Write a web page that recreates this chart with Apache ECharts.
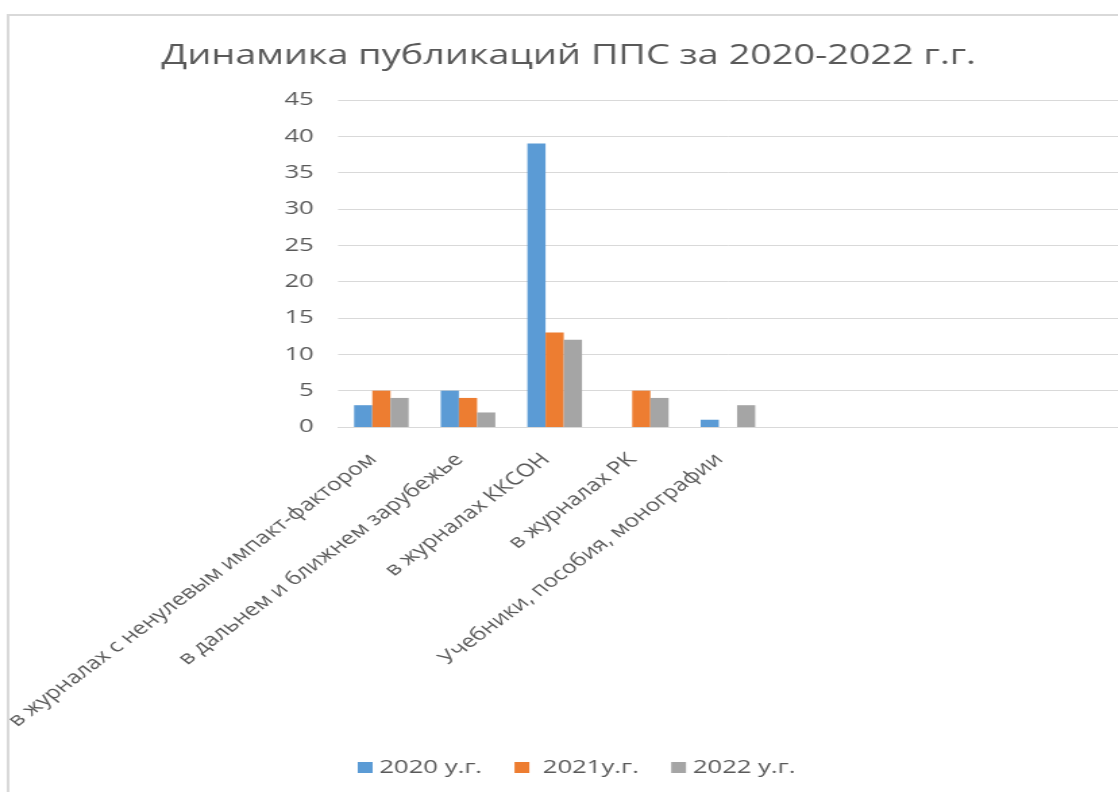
<!DOCTYPE html>
<html>
<head>
<meta charset="utf-8">
<script src="https://cdn.jsdelivr.net/npm/echarts@6/dist/echarts.min.js"></script>
<style>
  html, body { margin: 0; padding: 0; background: #fff; overflow: hidden; }
  /* исходный скриншот растянут по горизонтали, поэтому рисуем уже и растягиваем */
  #chart { width: 828px; height: 792px; transform: scaleX(1.35); transform-origin: 0 0; }
</style>
</head>
<body>
<div id="chart"></div>
<script>
var categories = [
	'в журналах с ненулевым импакт-фактором',
	'в дальнем и ближнем зарубежье',
	'в журналах ККСОН',
	'в журналах РК',
	'Учебники, пособия, монографии',
	'', '', '', ''
];
var seriesNames = ['2020 у.г.', ' 2021у.г.', '2022 у.г.'];
var data2020 = [3, 5, 39, 0, 1];
var data2021 = [5, 4, 13, 5, 0];
var data2022 = [4, 2, 12, 4, 3];
var yTicks = { min: 0, max: 45, interval: 5 };

var colors = ['#5B9BD5', '#ED7D31', '#A5A5A5'];
var font = '"Open Sans", "DejaVu Sans", sans-serif';

var myChart = echarts.init(document.getElementById('chart'));
var option = {
	animation: false,
	color: colors,
	textStyle: { fontFamily: font },
	title: {
		text: 'Динамика публикаций ППС за 2020-2022 г.г.',
		left: 114.5,
		top: 37,
		textStyle: { fontFamily: font, fontSize: 28, fontWeight: 'normal', color: '#595959' }
	},
	legend: {
		data: seriesNames,
		left: 260,
		top: 753,
		itemWidth: 11,
		itemHeight: 11,
		itemGap: 24,
		icon: 'rect',
		textStyle: { fontFamily: font, fontSize: 19, color: '#595959' }
	},
	graphic: [{
		type: 'rect',
		shape: { x: 6, y: 15, width: 900, height: 900 },
		style: { fill: 'none', stroke: '#d9d9d9', lineWidth: 2 },
		silent: true
	}],
	grid: { left: 250.4, top: 100, bottom: 365, right: -5.7, containLabel: false },
	xAxis: {
		type: 'category',
		data: categories,
		axisLine: { show: true, lineStyle: { color: '#d9d9d9', width: 1 } },
		axisTick: { show: false },
		axisLabel: {
			interval: 0,
			rotate: 45,
			margin: 36,
			align: 'right',
			verticalAlign: 'bottom',
			fontFamily: font,
			fontSize: 18,
			color: '#595959'
		}
	},
	yAxis: {
		type: 'value',
		min: yTicks.min,
		max: yTicks.max,
		interval: yTicks.interval,
		axisLine: { show: false },
		axisTick: { show: false },
		splitLine: { lineStyle: { color: '#d9d9d9', width: 1 } },
		axisLabel: { margin: 18, fontFamily: font, fontSize: 19, color: '#595959' }
	},
	series: [
		{ name: seriesNames[0], type: 'bar', data: data2020, barGap: '0%', barCategoryGap: '37%' },
		{ name: seriesNames[1], type: 'bar', data: data2021, barGap: '0%', barCategoryGap: '37%' },
		{ name: seriesNames[2], type: 'bar', data: data2022, barGap: '0%', barCategoryGap: '37%' }
	]
};
myChart.setOption(option);
</script>
</body>
</html>
